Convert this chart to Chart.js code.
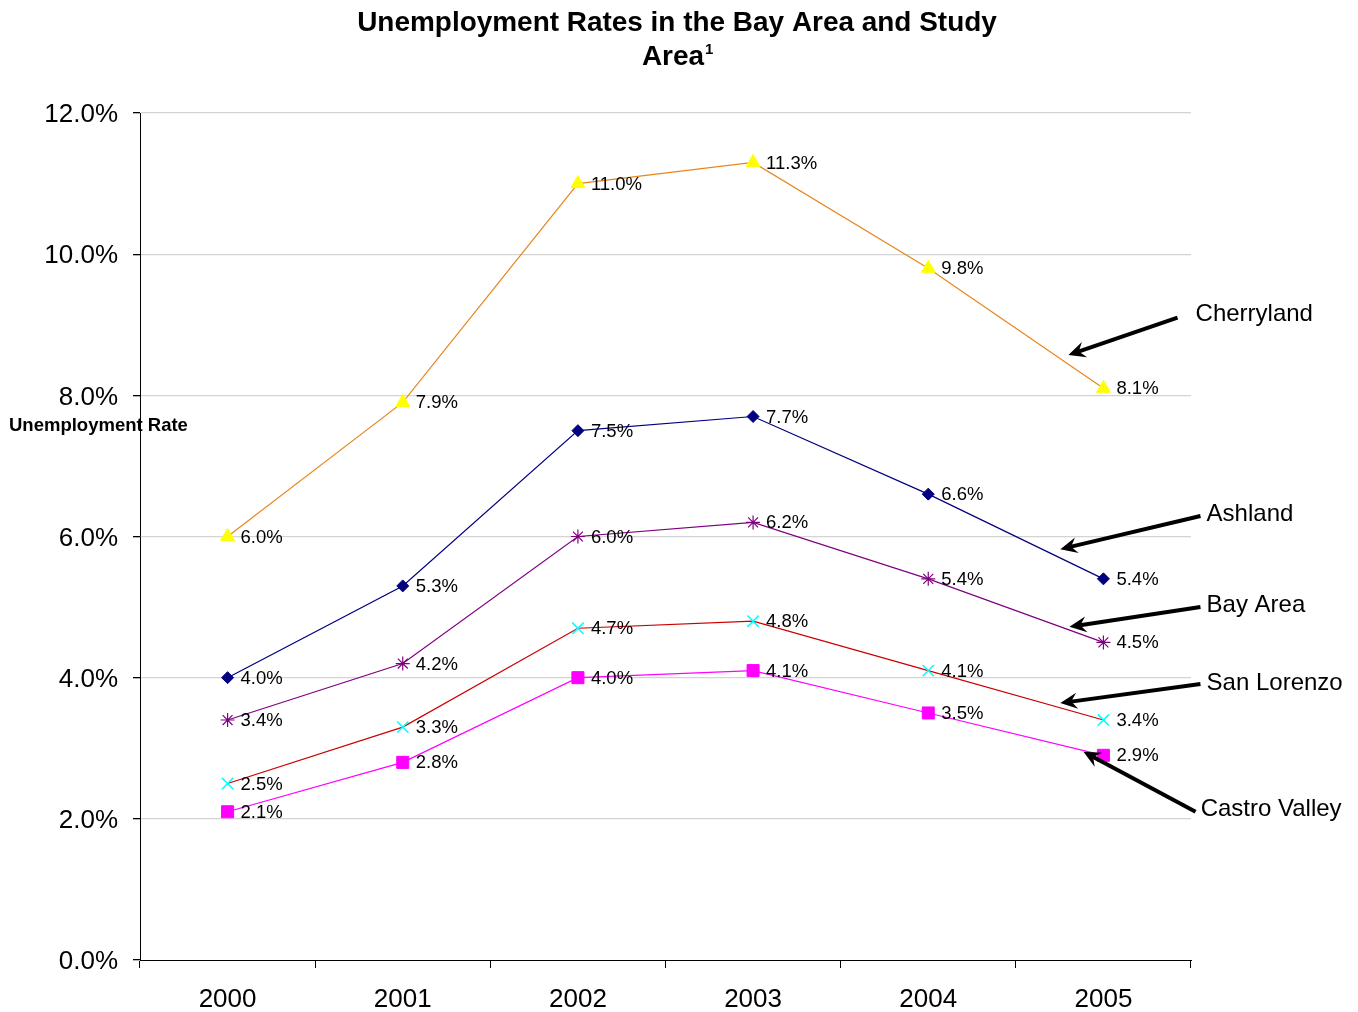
<!DOCTYPE html>
<html>
<head>
<meta charset="utf-8">
<title>Unemployment Rates in the Bay Area and Study Area</title>
<script src="https://cdn.jsdelivr.net/npm/chart.js@4/dist/chart.umd.min.js"></script>
<style>
  html, body { margin: 0; padding: 0; background: #fff; }
  #wrap { width: 1358px; height: 1012px; }
</style>
</head>
<body>
<div id="wrap"><canvas id="chart" width="1358" height="1012"></canvas></div>
<script>
// Data
const years = ["2000", "2001", "2002", "2003", "2004", "2005"];
const cherryland = [6.0, 7.9, 11.0, 11.3, 9.8, 8.1];
const ashland = [4.0, 5.3, 7.5, 7.7, 6.6, 5.4];
const bayArea = [3.4, 4.2, 6.0, 6.2, 5.4, 4.5];
const sanLorenzo = [2.5, 3.3, 4.7, 4.8, 4.1, 3.4];
const castroValley = [2.1, 2.8, 4.0, 4.1, 3.5, 2.9];
const yTicks = [0, 2, 4, 6, 8, 10, 12];

const titleLines = ["Unemployment Rates in the Bay Area and Study", "Area"];
const yTitle = "Unemployment Rate";

// Callouts: label + arrow, placed in data units (category index, percent)
const callouts = [
  { text: "Cherryland",    label: [5.526, 9.15], tail: [5.423, 9.10], tip: [4.80, 8.57] },
  { text: "Ashland",       label: [5.589, 6.32], tail: [5.554, 6.29], tip: [4.754, 5.82] },
  { text: "Bay Area",      label: [5.589, 5.02], tail: [5.554, 5.00], tip: [4.806, 4.72] },
  { text: "San Lorenzo",   label: [5.589, 3.92], tail: [5.554, 3.91], tip: [4.754, 3.64] },
  { text: "Castro Valley", label: [5.555, 2.13], tail: [5.526, 2.10], tip: [4.886, 2.95] }
];

function series(label, data, line, fill, style, radius, bw) {
  return {
    label: label,
    data: data,
    borderColor: line,
    borderWidth: 1.2,
    tension: 0,
    fill: false,
    pointStyle: style,
    pointRadius: radius,
    pointBackgroundColor: fill,
    pointBorderColor: fill,
    pointBorderWidth: bw
  };
}

const datasets = [
  series("Cherryland", cherryland, "#E8861E", "#FFFF00", "triangle", 8, 1),
  series("Ashland", ashland, "#000080", "#000080", "rectRot", 6, 1),
  series("Bay Area", bayArea, "#800080", "#800080", "star", 7, 1.2),
  series("San Lorenzo", sanLorenzo, "#CC0000", "#00FFFF", "crossRot", 8, 1.5),
  series("Castro Valley", castroValley, "#FF00FF", "#FF00FF", "rect", 8.5, 1)
];

// Title, axis caption, point labels and callout arrows
const decorations = {
  id: "decorations",
  afterDatasetsDraw(chart) {
    const ctx = chart.ctx;
    const xs = chart.scales.x, ys = chart.scales.y;
    ctx.save();

    // point value labels
    ctx.font = "18.5px 'Liberation Sans', Arial, sans-serif";
    ctx.fillStyle = "#000";
    ctx.textAlign = "left";
    ctx.textBaseline = "middle";
    chart.data.datasets.forEach((ds, i) => {
      chart.getDatasetMeta(i).data.forEach((pt, j) => {
        ctx.fillText(ds.data[j].toFixed(1) + "%", pt.x + 13, pt.y + 1);
      });
    });

    // title
    ctx.textBaseline = "middle";
    ctx.textAlign = "center";
    let size = 26;
    ctx.font = "bold " + size + "px 'Liberation Sans', Arial, sans-serif";
    const w = ctx.measureText(titleLines[0]).width;
    size = size * 640 / w;
    ctx.font = "bold " + size + "px 'Liberation Sans', Arial, sans-serif";
    ctx.fillText(titleLines[0], 677, 23);
    const w2 = ctx.measureText(titleLines[1]).width;
    ctx.textAlign = "left";
    const ax = 677 - (w2 + 8) / 2;
    ctx.fillText(titleLines[1], ax, 57);
    ctx.font = "bold " + Math.round(size * 0.55) + "px 'Liberation Sans', Arial, sans-serif";
    ctx.fillText("1", ax + w2 + 1, 50);

    // y-axis caption
    ctx.font = "bold 18.5px 'Liberation Sans', Arial, sans-serif";
    ctx.textAlign = "left";
    ctx.fillText(yTitle, 9, 426);

    // callouts
    ctx.font = "24px 'Liberation Sans', Arial, sans-serif";
    callouts.forEach(c => {
      const lx = xs.getPixelForValue(c.label[0]), ly = ys.getPixelForValue(c.label[1]);
      const tx = xs.getPixelForValue(c.tail[0]), ty = ys.getPixelForValue(c.tail[1]);
      const px = xs.getPixelForValue(c.tip[0]), py = ys.getPixelForValue(c.tip[1]);
      ctx.fillStyle = "#000";
      ctx.fillText(c.text, lx, ly);
      const ang = Math.atan2(py - ty, px - tx);
      const head = 17, half = 8;
      const bx = px - Math.cos(ang) * head, by = py - Math.sin(ang) * head;
      ctx.strokeStyle = "#000";
      ctx.lineWidth = 4;
      ctx.beginPath();
      ctx.moveTo(tx, ty);
      ctx.lineTo(px - Math.cos(ang) * 9, py - Math.sin(ang) * 9);
      ctx.stroke();
      ctx.beginPath();
      ctx.moveTo(px, py);
      ctx.lineTo(bx + Math.sin(ang) * half, by - Math.cos(ang) * half);
      ctx.lineTo(px - Math.cos(ang) * 11, py - Math.sin(ang) * 11);
      ctx.lineTo(bx - Math.sin(ang) * half, by + Math.cos(ang) * half);
      ctx.closePath();
      ctx.fill();
    });
    ctx.restore();
  }
};

new Chart(document.getElementById("chart"), {
  type: "line",
  data: { labels: years, datasets: datasets },
  plugins: [decorations],
  options: {
    responsive: false,
    animation: false,
    layout: { padding: { top: 113, right: 167, left: 0, bottom: 0 } },
    plugins: {
      legend: { display: false },
      title: { display: false },
      tooltip: { enabled: false }
    },
    scales: {
      x: {
        offset: true,
        grid: { offset: true, drawOnChartArea: false, color: "#000", tickLength: 8, tickWidth: 1 },
        border: { color: "#000", width: 1 },
        ticks: { color: "#000", padding: 16, font: { family: "'Liberation Sans', Arial, sans-serif", size: 26 } },
        afterFit(scale) { scale.height = 52; }
      },
      y: {
        min: 0,
        max: 12,
        afterBuildTicks(scale) { scale.ticks = yTicks.map(v => ({ value: v })); },
        grid: {
          color: ctx => ctx.tick && ctx.tick.value === 0 ? "rgba(0,0,0,0)" : "#D4D4D4",
          lineWidth: 1.3,
          tickColor: "#000",
          tickLength: 7
        },
        border: { color: "#000", width: 1 },
        ticks: {
          color: "#000",
          padding: 15,
          labelOffset: 2,
          font: { family: "'Liberation Sans', Arial, sans-serif", size: 26 },
          callback: v => v.toFixed(1) + "%"
        },
        afterFit(scale) { scale.width = 140; }
      }
    }
  }
});
</script>
</body>
</html>
